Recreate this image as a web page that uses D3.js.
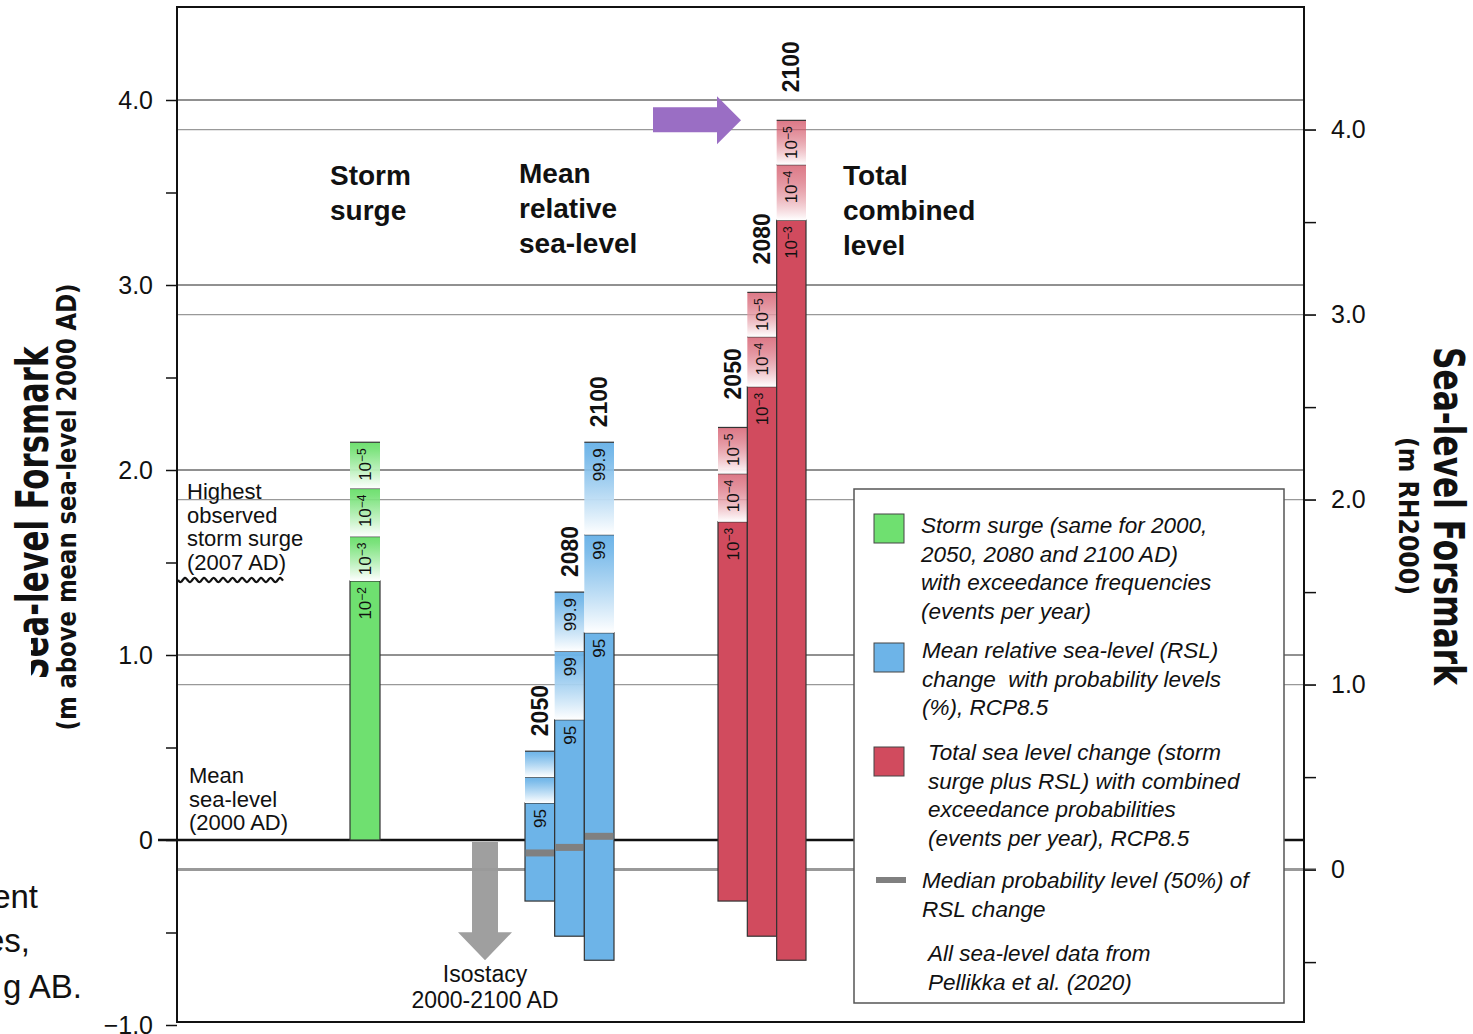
<!DOCTYPE html>
<html>
<head>
<meta charset="utf-8">
<script src="https://cdn.jsdelivr.net/npm/d3@7"></script>
<style>
body { margin: 0; background: #fff; }
text { font-family: "Liberation Sans", Arial, Helvetica, sans-serif; fill: #111; }
.narrow { font-family: "Liberation Sans Narrow", "DejaVu Sans Condensed", "Liberation Sans", sans-serif; font-weight: bold; }
</style>
</head>
<body>
<div id="chart"></div>
<script>
// valeurs (m au-dessus du niveau moyen 2000)
const years = ["2050", "2080", "2100"];

// storm surge (meme pour toutes les annees)
const surgeBase = 0;
const surgeSolid = 1.40;
const surgeTops = [1.64, 1.90, 2.15];
const surgeLabels = ["e2", "e3", "e4", "e5"];

// mean relative sea-level, RCP8.5
const rslBottom = [-0.33, -0.52, -0.65];
const rsl95 = [0.20, 0.65, 1.12];
const rsl99 = [0.34, 1.02, 1.65];
const rsl999 = [0.48, 1.34, 2.15];
const rslMedian = [-0.07, -0.04, 0.02];
const rslLabels = ["95", "99", "99.9"];

// total combined level
const totBottom = [-0.33, -0.52, -0.65];
const tot3 = [1.72, 2.45, 3.35];
const tot4 = [1.98, 2.72, 3.65];
const tot5 = [2.23, 2.96, 3.89];
const totLabels = ["e3", "e4", "e5"];

const isostacyDrop = -0.65;
const rh2000Shift = 0.16;   // RH2000 = niveau 2000 + 0.16
const leftTicks = [-1, -0.5, 0, 0.5, 1, 1.5, 2, 2.5, 3, 3.5, 4];
const rightTicks = [-0.5, 0, 0.5, 1, 1.5, 2, 2.5, 3, 3.5, 4];
const gridLeft = [1, 2, 3, 4];
const gridRight = [1, 2, 3, 4];

const W = 1473, H = 1034;
const pL = 177, pR = 1304, pT = 7, pB = 1022;

const green = "#6fe070", blue = "#6db4e8", red = "#d14b5e";

const svg = d3.select("#chart").append("svg")
  .attr("width", W).attr("height", H)
  .style("background", "#fff");

const y = d3.scaleLinear().domain([-1, 4.5]).range([1025, 7.5]);
const yR = d3.scaleLinear().domain([-1 + rh2000Shift, 4.5 + rh2000Shift]).range([1025, 7.5]);

// degrades
const defs = svg.append("defs");
function grad(id, col, op) {
  const g = defs.append("linearGradient").attr("id", id)
    .attr("x1", 0).attr("y1", 0).attr("x2", 0).attr("y2", 1);
  g.append("stop").attr("offset", "0%").attr("stop-color", col).attr("stop-opacity", op);
  g.append("stop").attr("offset", "15%").attr("stop-color", col).attr("stop-opacity", op * 0.9);
  g.append("stop").attr("offset", "100%").attr("stop-color", "#fff").attr("stop-opacity", 1);
}
grad("gGreen", green, 1);
grad("gBlue", blue, 1);
grad("gRed", red, 0.75);

// lignes horizontales
svg.selectAll("line.gl").data(gridLeft).enter().append("line")
  .attr("x1", pL).attr("x2", pR)
  .attr("y1", d => y(d)).attr("y2", d => y(d))
  .attr("stroke", "#222").attr("stroke-width", 1);
svg.selectAll("line.gr").data(gridRight).enter().append("line")
  .attr("x1", pL).attr("x2", pR + 12)
  .attr("y1", d => yR(d)).attr("y2", d => yR(d))
  .attr("stroke", "#999").attr("stroke-width", 1.2);
svg.append("line").attr("x1", pL).attr("x2", pR + 12)
  .attr("y1", yR(0)).attr("y2", yR(0))
  .attr("stroke", "#999").attr("stroke-width", 3);
svg.append("line").attr("x1", 158).attr("x2", pR)
  .attr("y1", y(0)).attr("y2", y(0))
  .attr("stroke", "#111").attr("stroke-width", 2.5);

// axes
const fmt = d => d === 0 ? "0" : (Number.isInteger(d) ? d.toFixed(1).replace("-", "\u2212") : "");
const axL = svg.append("g").attr("transform", `translate(${pL},0)`)
  .call(d3.axisLeft(y).tickValues(leftTicks).tickSize(11).tickPadding(13).tickFormat(fmt));
const axR = svg.append("g").attr("transform", `translate(${pR},0)`)
  .call(d3.axisRight(yR).tickValues(rightTicks).tickSize(12).tickPadding(15).tickFormat(fmt));
[axL, axR].forEach(a => {
  a.select(".domain").remove();
  a.selectAll(".tick line").attr("stroke", "#111").attr("stroke-width", 1.5);
  a.selectAll(".tick text").style("font-size", "25px").attr("fill", "#111")
    .style("font-family", "'Liberation Sans', Arial, sans-serif");
});

// colonnes
function addLabel(g, xc, yTop, lab) {
  const t = g.append("text")
    .attr("transform", `translate(${xc + 6},${yTop + 6}) rotate(-90)`)
    .attr("text-anchor", "end").style("font-size", "17px");
  if (lab[0] === "e") {
    t.append("tspan").text("10");
    t.append("tspan").attr("dy", "-0.45em").style("font-size", "12px").text("\u2212" + lab.slice(1));
  } else {
    t.text(lab);
  }
}

function drawColumn(x0, w, base, solid, tops, labels, fill, gradId) {
  const g = svg.append("g");
  const xc = x0 + w / 2;
  g.append("rect").attr("x", x0).attr("y", y(solid)).attr("width", w)
    .attr("height", y(base) - y(solid))
    .attr("fill", fill).attr("stroke", "#333").attr("stroke-width", 1.2);
  addLabel(g, xc, y(solid), labels[0]);
  tops.forEach((t, i) => {
    const lower = i === 0 ? solid : tops[i - 1];
    g.append("rect").attr("x", x0).attr("y", y(t)).attr("width", w)
      .attr("height", y(lower) - y(t)).attr("fill", `url(#${gradId})`);
    g.append("line").attr("x1", x0).attr("x2", x0 + w)
      .attr("y1", y(t)).attr("y2", y(t)).attr("stroke", "#333").attr("stroke-width", 1.2);
    if (y(lower) - y(t) > 35) addLabel(g, xc, y(t), labels[i + 1]);
  });
  return g;
}

// storm surge
drawColumn(350, 30, surgeBase, surgeSolid, surgeTops, surgeLabels, green, "gGreen");

// RSL et total
const xRsl = d3.scaleBand().domain(years).range([525, 614]);
const xTot = d3.scaleBand().domain(years).range([718, 806]);

years.forEach((yr, i) => {
  const g = drawColumn(xRsl(yr), xRsl.bandwidth(), rslBottom[i], rsl95[i],
    [rsl99[i], rsl999[i]], rslLabels, blue, "gBlue");
  g.append("rect").attr("x", xRsl(yr) + 0.6).attr("y", y(rslMedian[i]) - 3.5)
    .attr("width", xRsl.bandwidth() - 1.2).attr("height", 7).attr("fill", "#808080");
  g.append("text")
    .attr("transform", `translate(${xRsl(yr) + xRsl.bandwidth() / 2 + 8},${y(rsl999[i]) - 15}) rotate(-90)`)
    .style("font-size", "23px").style("font-weight", "bold").text(yr);
});

years.forEach((yr, i) => {
  drawColumn(xTot(yr), xTot.bandwidth(), totBottom[i], tot3[i],
    [tot4[i], tot5[i]], totLabels, red, "gRed");
  svg.append("text")
    .attr("transform", `translate(${xTot(yr) + xTot.bandwidth() / 2 + 8},${y(tot5[i]) - 28}) rotate(-90)`)
    .style("font-size", "23px").style("font-weight", "bold").text(yr);
});

// fleche isostasie
const ax = 485, y0 = y(0) + 2, yTip = y(isostacyDrop);
svg.append("path")
  .attr("d", `M${ax - 13},${y0} L${ax + 13},${y0} L${ax + 13},${yTip - 28} L${ax + 27},${yTip - 28}
    L${ax},${yTip} L${ax - 27},${yTip - 28} L${ax - 13},${yTip - 28} Z`)
  .attr("fill", "#9a9a9a").attr("opacity", 0.95);
svg.append("text").attr("x", ax).attr("y", 982).attr("text-anchor", "middle")
  .style("font-size", "23px").text("Isostacy");
svg.append("text").attr("x", ax).attr("y", 1008).attr("text-anchor", "middle")
  .style("font-size", "23px").text("2000-2100 AD");

// fleche violette
const py = y(tot5[2]);
svg.append("path")
  .attr("d", `M653,${py - 13} L717,${py - 13} L717,${py - 24} L741,${py} L717,${py + 24}
    L717,${py + 12} L653,${py + 12} Z`)
  .attr("fill", "#9a6ec4");

// titres des groupes
function block(x, y0, lines, size, weight, dy) {
  const t = svg.append("text").attr("x", x).attr("y", y0)
    .style("font-size", size + "px").style("font-weight", weight).attr("fill", "#222");
  lines.forEach((l, i) => t.append("tspan").attr("x", x).attr("dy", i ? dy : 0).text(l));
}
block(330, 185, ["Storm", "surge"], 28, "bold", 35);
block(519, 183, ["Mean", "relative", "sea-level"], 28, "bold", 35);
block(843, 185, ["Total", "combined", "level"], 28, "bold", 35);
block(187, 499, ["Highest", "observed", "storm surge", "(2007 AD)"], 22, "normal", 23.5);
block(189, 783, ["Mean", "sea-level", "(2000 AD)"], 22, "normal", 23.5);

// ligne ondulee
const wave = d3.range(0, 106, 1).map(i => [178 + i, 580 + 2.2 * Math.sin(i / 9.5 * 2 * Math.PI)]);
svg.append("path").attr("d", d3.line().curve(d3.curveBasis)(wave))
  .attr("fill", "none").attr("stroke", "#111").attr("stroke-width", 2.2);

// cadre
svg.append("rect").attr("x", pL).attr("y", pT).attr("width", pR - pL)
  .attr("height", pB - pT).attr("fill", "none").attr("stroke", "#111").attr("stroke-width", 2);

// titres des axes
svg.append("text").attr("class", "narrow")
  .attr("transform", "translate(48,513) rotate(-90)").attr("text-anchor", "middle")
  .attr("textLength", 333).attr("lengthAdjust", "spacingAndGlyphs")
  .style("font-size", "44px").text("Sea-level Forsmark");
svg.append("rect").attr("x", 0).attr("y", 632).attr("width", 31).attr("height", 70).attr("fill", "#fff");
svg.append("text").attr("class", "narrow")
  .attr("transform", "translate(76,507) rotate(-90)").attr("text-anchor", "middle")
  .attr("textLength", 447).attr("lengthAdjust", "spacingAndGlyphs")
  .style("font-size", "27px").text("(m above mean sea-level 2000 AD)");
svg.append("text").attr("class", "narrow")
  .attr("transform", "translate(1434,516) rotate(90)").attr("text-anchor", "middle")
  .attr("textLength", 338).attr("lengthAdjust", "spacingAndGlyphs")
  .style("font-size", "43px").text("Sea-level Forsmark");
svg.append("text").attr("class", "narrow")
  .attr("transform", "translate(1399,516) rotate(90)").attr("text-anchor", "middle")
  .attr("textLength", 158).attr("lengthAdjust", "spacingAndGlyphs")
  .style("font-size", "27px").text("(m RH2000)");

// fragments de texte coupes a gauche
[["ent", 38, 908], ["es,", 30, 952], ["g AB.", 82, 998]].forEach(f => {
  svg.append("text").attr("x", f[1]).attr("y", f[2]).attr("text-anchor", "end")
    .style("font-size", "33px").text(f[0]);
});

// legende
const lg = svg.append("g");
lg.append("rect").attr("x", 854).attr("y", 489).attr("width", 430).attr("height", 514)
  .attr("fill", "#fff").attr("stroke", "#555").attr("stroke-width", 1.5);
const items = [
  { col: green, sy: 514, tx: 921, ty: 533, lines: ["Storm surge (same for 2000,", "2050, 2080 and 2100 AD)", "with exceedance frequencies", "(events per year)"] },
  { col: blue, sy: 643, tx: 922, ty: 658, lines: ["Mean relative sea-level (RSL)", "change  with probability levels", "(%), RCP8.5"] },
  { col: red, sy: 747, tx: 928, ty: 760, lines: ["Total sea level change (storm", "surge plus RSL) with combined", "exceedance probabilities", "(events per year), RCP8.5"] },
  { col: null, sy: 880, tx: 922, ty: 888, lines: ["Median probability level (50%) of", "RSL change"] },
  { col: "none", sy: 0, tx: 928, ty: 961, lines: ["All sea-level data from", "Pellikka et al. (2020)"] }
];
items.forEach(it => {
  if (it.col === null) {
    lg.append("rect").attr("x", 876).attr("y", it.sy - 3).attr("width", 30).attr("height", 6).attr("fill", "#808080");
  } else if (it.col !== "none") {
    lg.append("rect").attr("x", 874).attr("y", it.sy).attr("width", 30).attr("height", 29)
      .attr("fill", it.col).attr("stroke", "#444").attr("stroke-width", 1);
  }
  const t = lg.append("text").attr("x", it.tx).attr("y", it.ty)
    .style("font-size", "22.5px").style("font-style", "italic").style("white-space", "pre");
  it.lines.forEach((l, i) => t.append("tspan").attr("x", it.tx).attr("dy", i ? 28.5 : 0).text(l));
});
</script>
</body>
</html>
